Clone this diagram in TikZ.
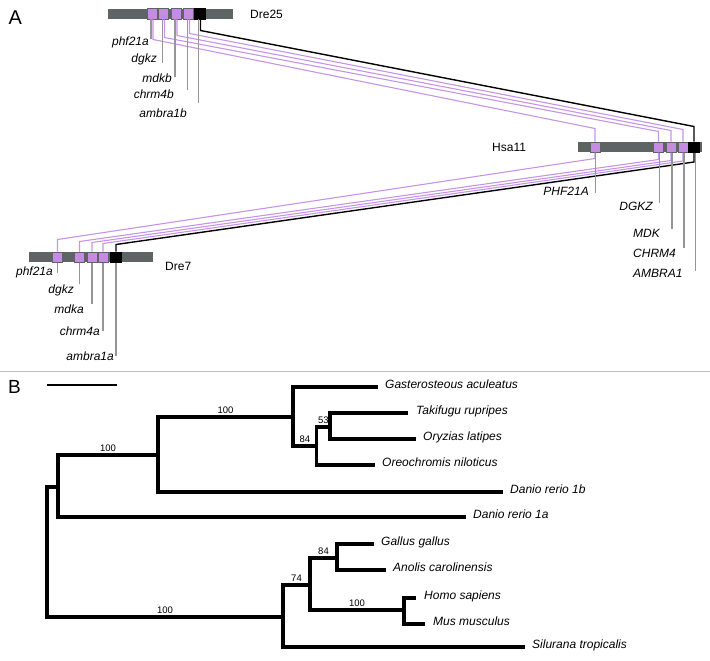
\documentclass[tikz,border=0pt]{standalone}
\usepackage{fontspec}
\setmainfont{Liberation Sans}
\definecolor{chrgrey}{RGB}{94,100,100}
\definecolor{genepink}{RGB}{198,140,226}
\definecolor{linkpink}{RGB}{198,148,230}
\definecolor{tickgrey}{RGB}{150,150,150}
\definecolor{rulegrey}{RGB}{190,190,190}
\tikzset{
  chrom/.style={fill=chrgrey,inner sep=0,minimum height=10.5pt},
  gene/.style={fill=genepink,draw=chrgrey,line width=0.5pt,inner sep=0,minimum width=10pt,minimum height=10.5pt},
  blackgene/.style={gene,fill=black,draw=black,minimum width=11pt},
  link/.style={linkpink,line width=1.1pt},
  blink/.style={black,line width=1.4pt},
  tick/.style={tickgrey,line width=1.2pt},
  glab/.style={font=\fontsize{12}{14}\selectfont\itshape,inner sep=0},
  chlab/.style={font=\fontsize{12}{14}\selectfont,inner sep=0,anchor=west},
  branch/.style={line width=3.3pt},
  boot/.style={font=\fontsize{9.5}{11}\selectfont,inner sep=1pt,above=0.5pt,pos=.75},
  leaf/.style={font=\fontsize{12}{14}\selectfont\itshape,inner sep=0,anchor=base west}
}
\begin{document}
\begin{tikzpicture}[x=1pt,y=-1pt]
\useasboundingbox (0,0) rectangle (710,661);
% panel A
\node[font=\fontsize{20}{22}\selectfont,inner sep=0] (pa) at (15.3,17.5) {A};
\node[chrom,minimum width=125pt] (d25) at (170.5,14) {};
\node[gene] (d25a) at (152,14) {};
\node[gene] (d25b) at (163.5,14) {};
\node[gene] (d25c) at (176,14) {};
\node[gene] (d25d) at (188.5,14) {};
\node[blackgene] (d25k) at (199.5,14) {};
\node[chlab] (d25l) at (250,14) {Dre25};
\node[chrom,minimum width=124pt] (h11) at (640,147) {};
\node[gene] (h11a) at (595,147) {};
\node[gene] (h11b) at (658.5,147) {};
\node[gene] (h11c) at (671,147) {};
\node[gene] (h11d) at (683,147) {};
\node[blackgene] (h11k) at (694,147) {};
\node[chlab] (h11l) at (492,147) {Hsa11};
\node[chrom,minimum width=124pt] (d7) at (91,257) {};
\node[gene] (d7a) at (57.5,257) {};
\node[gene] (d7b) at (79.5,257) {};
\node[gene] (d7c) at (92,257) {};
\node[gene] (d7d) at (103,257) {};
\node[blackgene] (d7k) at (116,257) {};
\node[chlab] (d7l) at (165,266) {Dre7};
% Dre25 to Hsa11
\draw[link] ([xshift=1pt]d25a.south) -- ++(0,20) -- ([yshift=13pt]h11a.north) -- (h11a.north);
\draw[link] ([xshift=1pt]d25b.south) -- ++(0,18) -- ([yshift=10pt]h11b.north) -- (h11b.north);
\draw[link] ([xshift=1pt]d25c.south) -- ++(0,16) -- ([yshift=11pt]h11c.north) -- (h11c.north);
\draw[link] ([xshift=1pt]d25d.south) -- ++(0,14) -- ([yshift=12pt]h11d.north) -- (h11d.north);
\draw[blink] ([xshift=1pt]d25k.south) -- ++(0,11) -- ([yshift=15pt]h11k.north) -- (h11k.north);
% Hsa11 to Dre7
\draw[link] (h11a.south) -- ++(0,6) -- ([yshift=12pt]d7a.north) -- (d7a.north);
\draw[link] (h11b.south) -- ++(0,7) -- ([yshift=10pt]d7b.north) -- (d7b.north);
\draw[link] (h11c.south) -- ++(0,8) -- ([yshift=9pt]d7c.north) -- (d7c.north);
\draw[link] (h11d.south) -- ++(0,8.5) -- ([yshift=8pt]d7d.north) -- (d7d.north);
\draw[blink] (h11k.south) -- ++(0,9.5) -- ([yshift=7pt]d7k.north) -- (d7k.north);
% gene ticks and names
\draw[tick] ([xshift=-1pt]d25a.south) -- ++(0,20);
\draw[tick] ([xshift=-1pt]d25b.south) -- ++(0,44);
\draw[tick] ([xshift=-1pt]d25c.south) -- ++(0,58);
\draw[tick] ([xshift=-1pt]d25d.south) -- ++(0,71);
\draw[tick] ([xshift=-1pt]d25k.south) -- ++(0,84);
\node[glab,anchor=east] (g25a) at (149,42) {phf21a};
\node[glab,anchor=east] (g25b) at (157,59) {dgkz};
\node[glab,anchor=east] (g25c) at (172,78) {mdkb};
\node[glab,anchor=east] (g25d) at (174,94) {chrm4b};
\node[glab,anchor=east] (g25k) at (187,113) {ambra1b};
\draw[tick] ([xshift=0.5pt]h11a.south) -- ++(0,40);
\draw[tick] ([xshift=1pt]h11b.south) -- ++(0,50);
\draw[tick] ([xshift=1pt]h11c.south) -- ++(0,76);
\draw[tick] ([xshift=1pt]h11d.south) -- ++(0,95);
\draw[tick] ([xshift=1.5pt]h11k.south) -- ++(0,118);
\node[glab,anchor=east] (g11a) at (589,191) {PHF21A};
\node[glab,anchor=east] (g11b) at (653,206) {DGKZ};
\node[glab,anchor=west] (g11c) at (633,233) {MDK};
\node[glab,anchor=west] (g11d) at (633,253) {CHRM4};
\node[glab,anchor=west] (g11k) at (633,273) {AMBRA1};
\draw[tick] (d7a.south) -- ++(0,10);
\draw[tick] (d7b.south) -- ++(0,21);
\draw[tick] (d7c.south) -- ++(0,41);
\draw[tick] (d7d.south) -- ++(0,68);
\draw[tick] (d7k.south) -- ++(0,93);
\node[glab,anchor=east] (g7a) at (53,272) {phf21a};
\node[glab,anchor=east] (g7b) at (74,290) {dgkz};
\node[glab,anchor=east] (g7c) at (84,309) {mdka};
\node[glab,anchor=east] (g7d) at (100,331) {chrm4a};
\node[glab,anchor=east] (g7k) at (114,356) {ambra1a};
\draw[rulegrey,line width=1pt] (0,371) -- (710,371);
% panel B
\node[font=\fontsize{19}{21}\selectfont,inner sep=0] (pb) at (14.5,387) {B};
\draw[line width=1.8pt] (47,385) -- (117,385);
\coordinate (r) at (47,552);
\coordinate (n1) at (58,487);
\coordinate (n2) at (158,455);
\coordinate (n3) at (293,417);
\coordinate (n4) at (316.7,446);
\coordinate (n5) at (330,427);
\coordinate (n6) at (283,617);
\coordinate (n7) at (310,585);
\coordinate (n8) at (337,558);
\coordinate (n9) at (404,610);
\coordinate (gac) at (378,387);
\coordinate (tru) at (408,413);
\coordinate (ola) at (416,439);
\coordinate (oni) at (375,465);
\coordinate (drb) at (503,492);
\coordinate (dra) at (466,517);
\coordinate (gga) at (374,544);
\coordinate (aca) at (386,570);
\coordinate (hsa) at (416,598);
\coordinate (mmu) at (425,624);
\coordinate (str) at (525,647);
\draw[branch] (r) |- (n1);
\draw[branch] (r) |- (n6) node[boot]{100};
\draw[branch] (n1) |- (n2) node[boot]{100};
\draw[branch] (n1) |- (dra);
\draw[branch] (n2) |- (n3) node[boot]{100};
\draw[branch] (n2) |- (drb);
\draw[branch] (n3) |- (gac);
\draw[branch] (n3) |- (n4) node[boot]{84};
\draw[branch] (n4) |- (n5) node[boot]{53};
\draw[branch] (n4) |- (oni);
\draw[branch] (n5) |- (tru);
\draw[branch] (n5) |- (ola);
\draw[branch] (n6) |- (n7) node[boot]{74};
\draw[branch] (n6) |- (str);
\draw[branch] (n7) |- (n8) node[boot]{84};
\draw[branch] (n7) |- (n9) node[boot]{100};
\draw[branch] (n8) |- (gga);
\draw[branch] (n8) |- (aca);
\draw[branch] (n9) |- (hsa);
\draw[branch] (n9) |- (mmu);
\node[leaf] (gacl) at ([xshift=7pt,yshift=-1.5pt]gac) {Gasterosteous aculeatus};
\node[leaf] (trul) at ([xshift=8pt,yshift=-1.5pt]tru) {Takifugu rupripes};
\node[leaf] (olal) at ([xshift=7pt,yshift=-1.5pt]ola) {Oryzias latipes};
\node[leaf] (onil) at ([xshift=7pt,yshift=-1.5pt]oni) {Oreochromis niloticus};
\node[leaf] (drbl) at ([xshift=7pt,yshift=-1.5pt]drb) {Danio rerio 1b};
\node[leaf] (dral) at ([xshift=7pt,yshift=-1.5pt]dra) {Danio rerio 1a};
\node[leaf] (ggal) at ([xshift=7pt,yshift=-1.5pt]gga) {Gallus gallus};
\node[leaf] (acal) at ([xshift=7pt,yshift=-1.5pt]aca) {Anolis carolinensis};
\node[leaf] (hsal) at ([xshift=8pt,yshift=-1.5pt]hsa) {Homo sapiens};
\node[leaf] (mmul) at ([xshift=8pt,yshift=-1.5pt]mmu) {Mus musculus};
\node[leaf] (strl) at ([xshift=7pt,yshift=-1.5pt]str) {Silurana tropicalis};
\end{tikzpicture}
\end{document}
